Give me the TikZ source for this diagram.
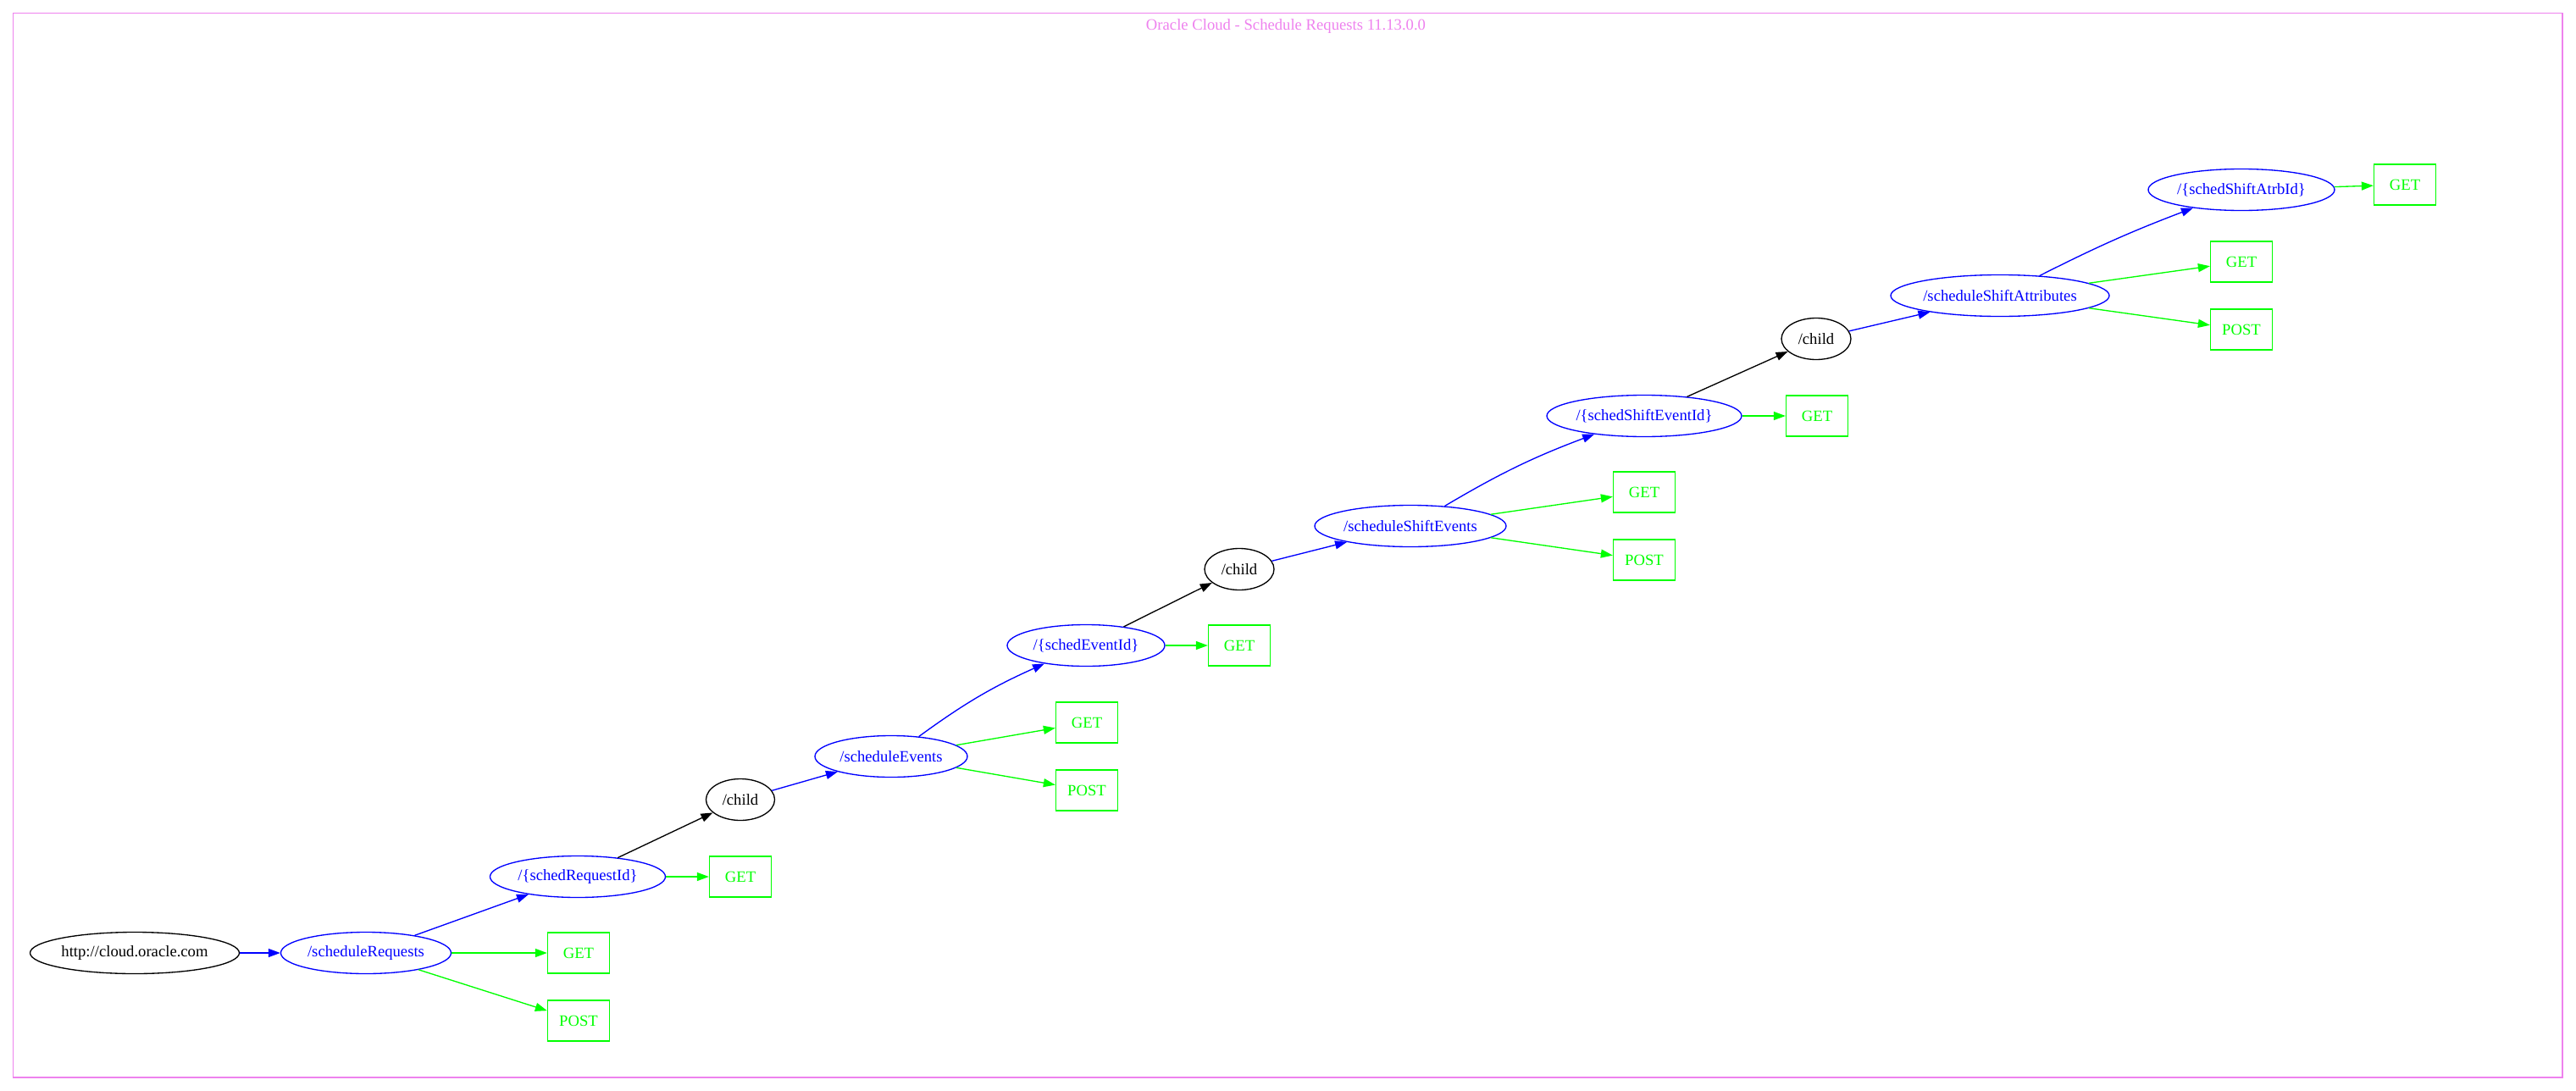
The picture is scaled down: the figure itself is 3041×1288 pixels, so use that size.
\documentclass[tikz,border=0pt]{standalone}
\usepackage{fontspec}
\setmainfont{Liberation Serif}
\usetikzlibrary{shapes.geometric,arrows.meta}
\definecolor{gvviolet}{HTML}{EE82EE}
\definecolor{gvblue}{HTML}{0000FF}
\definecolor{gvgreen}{HTML}{00FF00}
\newdimen\pxu \pxu=0.75pt
\begin{document}
\begin{tikzpicture}[x=0.75pt,y=-0.75pt,
  every node/.style={font=\fontsize{14}{16}\selectfont, inner sep=0pt},
  res/.style={ellipse, draw, line width=1pt, minimum height=49\pxu},
  resblue/.style={res, draw=gvblue, text=gvblue},
  resblack/.style={res, draw=black, text=black},
  verb/.style={rectangle, draw=gvgreen, text=gvgreen, line width=1pt,
    minimum width=73\pxu, minimum height=48\pxu},
  link/.style={line width=1pt, -{Triangle[length=10.5pt,width=7.5pt]}},
  bluelink/.style={link, draw=gvblue},
  greenlink/.style={link, draw=gvgreen},
  blacklink/.style={link, draw=black}]
\useasboundingbox (0,0) rectangle (3041,1288);
% frame and title
\draw[gvviolet, line width=1pt] (15.5,15.5) rectangle (3025,1272);
\node[text=gvviolet] (title) at (1518,31) {Oracle Cloud - Schedule Requests 11.13.0.0};

% resources
\node[resblack, minimum width=247\pxu] (http) at (159,1125) {http://cloud.oracle.com};
\node[resblue, minimum width=201\pxu] (sreq) at (432,1125) {/scheduleRequests};
\node[verb] (get1) at (683,1125) {GET};
\node[verb] (post1) at (683,1205) {POST};
\node[resblue, minimum width=207\pxu] (sreqid) at (682,1035) {/\{schedRequestId\}};
\node[verb] (get2) at (874,1035) {GET};
\node[resblack, minimum width=81\pxu] (child1) at (874,944) {/child};

\node[resblue, minimum width=180\pxu] (sev) at (1052,893) {/scheduleEvents};
\node[verb] (get3) at (1283,853) {GET};
\node[verb] (post3) at (1283,933) {POST};
\node[resblue, minimum width=186\pxu] (sevid) at (1282,762) {/\{schedEventId\}};
\node[verb] (get4) at (1463,762) {GET};
\node[resblack, minimum width=82\pxu] (child2) at (1463,672) {/child};

\node[resblue, minimum width=226\pxu] (sse) at (1665,621) {/scheduleShiftEvents};
\node[verb] (get5) at (1941,581) {GET};
\node[verb] (post5) at (1941,661) {POST};
\node[resblue, minimum width=230\pxu] (sseid) at (1941,491) {/\{schedShiftEventId\}};
\node[verb] (get6) at (2145,491) {GET};
\node[resblack, minimum width=82\pxu] (child3) at (2144,400) {/child};

\node[resblue, minimum width=258\pxu] (ssa) at (2361,349) {/scheduleShiftAttributes};
\node[verb] (get7) at (2646,309) {GET};
\node[verb] (post7) at (2646,389) {POST};
\node[resblue, minimum width=220\pxu] (ssaid) at (2646,224) {/\{schedShiftAtrbId\}};
\node[verb] (get8) at (2839,218) {GET};

% connectors
\draw[bluelink] (http) -- (sreq);
\draw[greenlink] (sreq) -- (get1);
\draw[greenlink] (sreq) -- (post1);
\draw[bluelink] (sreq) -- (sreqid);
\draw[greenlink] (sreqid) -- (get2);
\draw[blacklink] (sreqid) -- (child1);

\draw[bluelink] (child1) -- (sev);
\draw[greenlink] (sev) -- (get3);
\draw[greenlink] (sev) -- (post3);
\draw[bluelink] (sev) to[bend left=6] (sevid);
\draw[greenlink] (sevid) -- (get4);
\draw[blacklink] (sevid) -- (child2);

\draw[bluelink] (child2) -- (sse);
\draw[greenlink] (sse) -- (get5);
\draw[greenlink] (sse) -- (post5);
\draw[bluelink] (sse) to[bend left=5] (sseid);
\draw[greenlink] (sseid) -- (get6);
\draw[blacklink] (sseid) -- (child3);

\draw[bluelink] (child3) -- (ssa);
\draw[greenlink] (ssa) -- (get7);
\draw[greenlink] (ssa) -- (post7);
\draw[bluelink] (ssa) to[bend left=3] (ssaid);
\draw[greenlink] (ssaid) -- (get8);
\end{tikzpicture}
\end{document}
